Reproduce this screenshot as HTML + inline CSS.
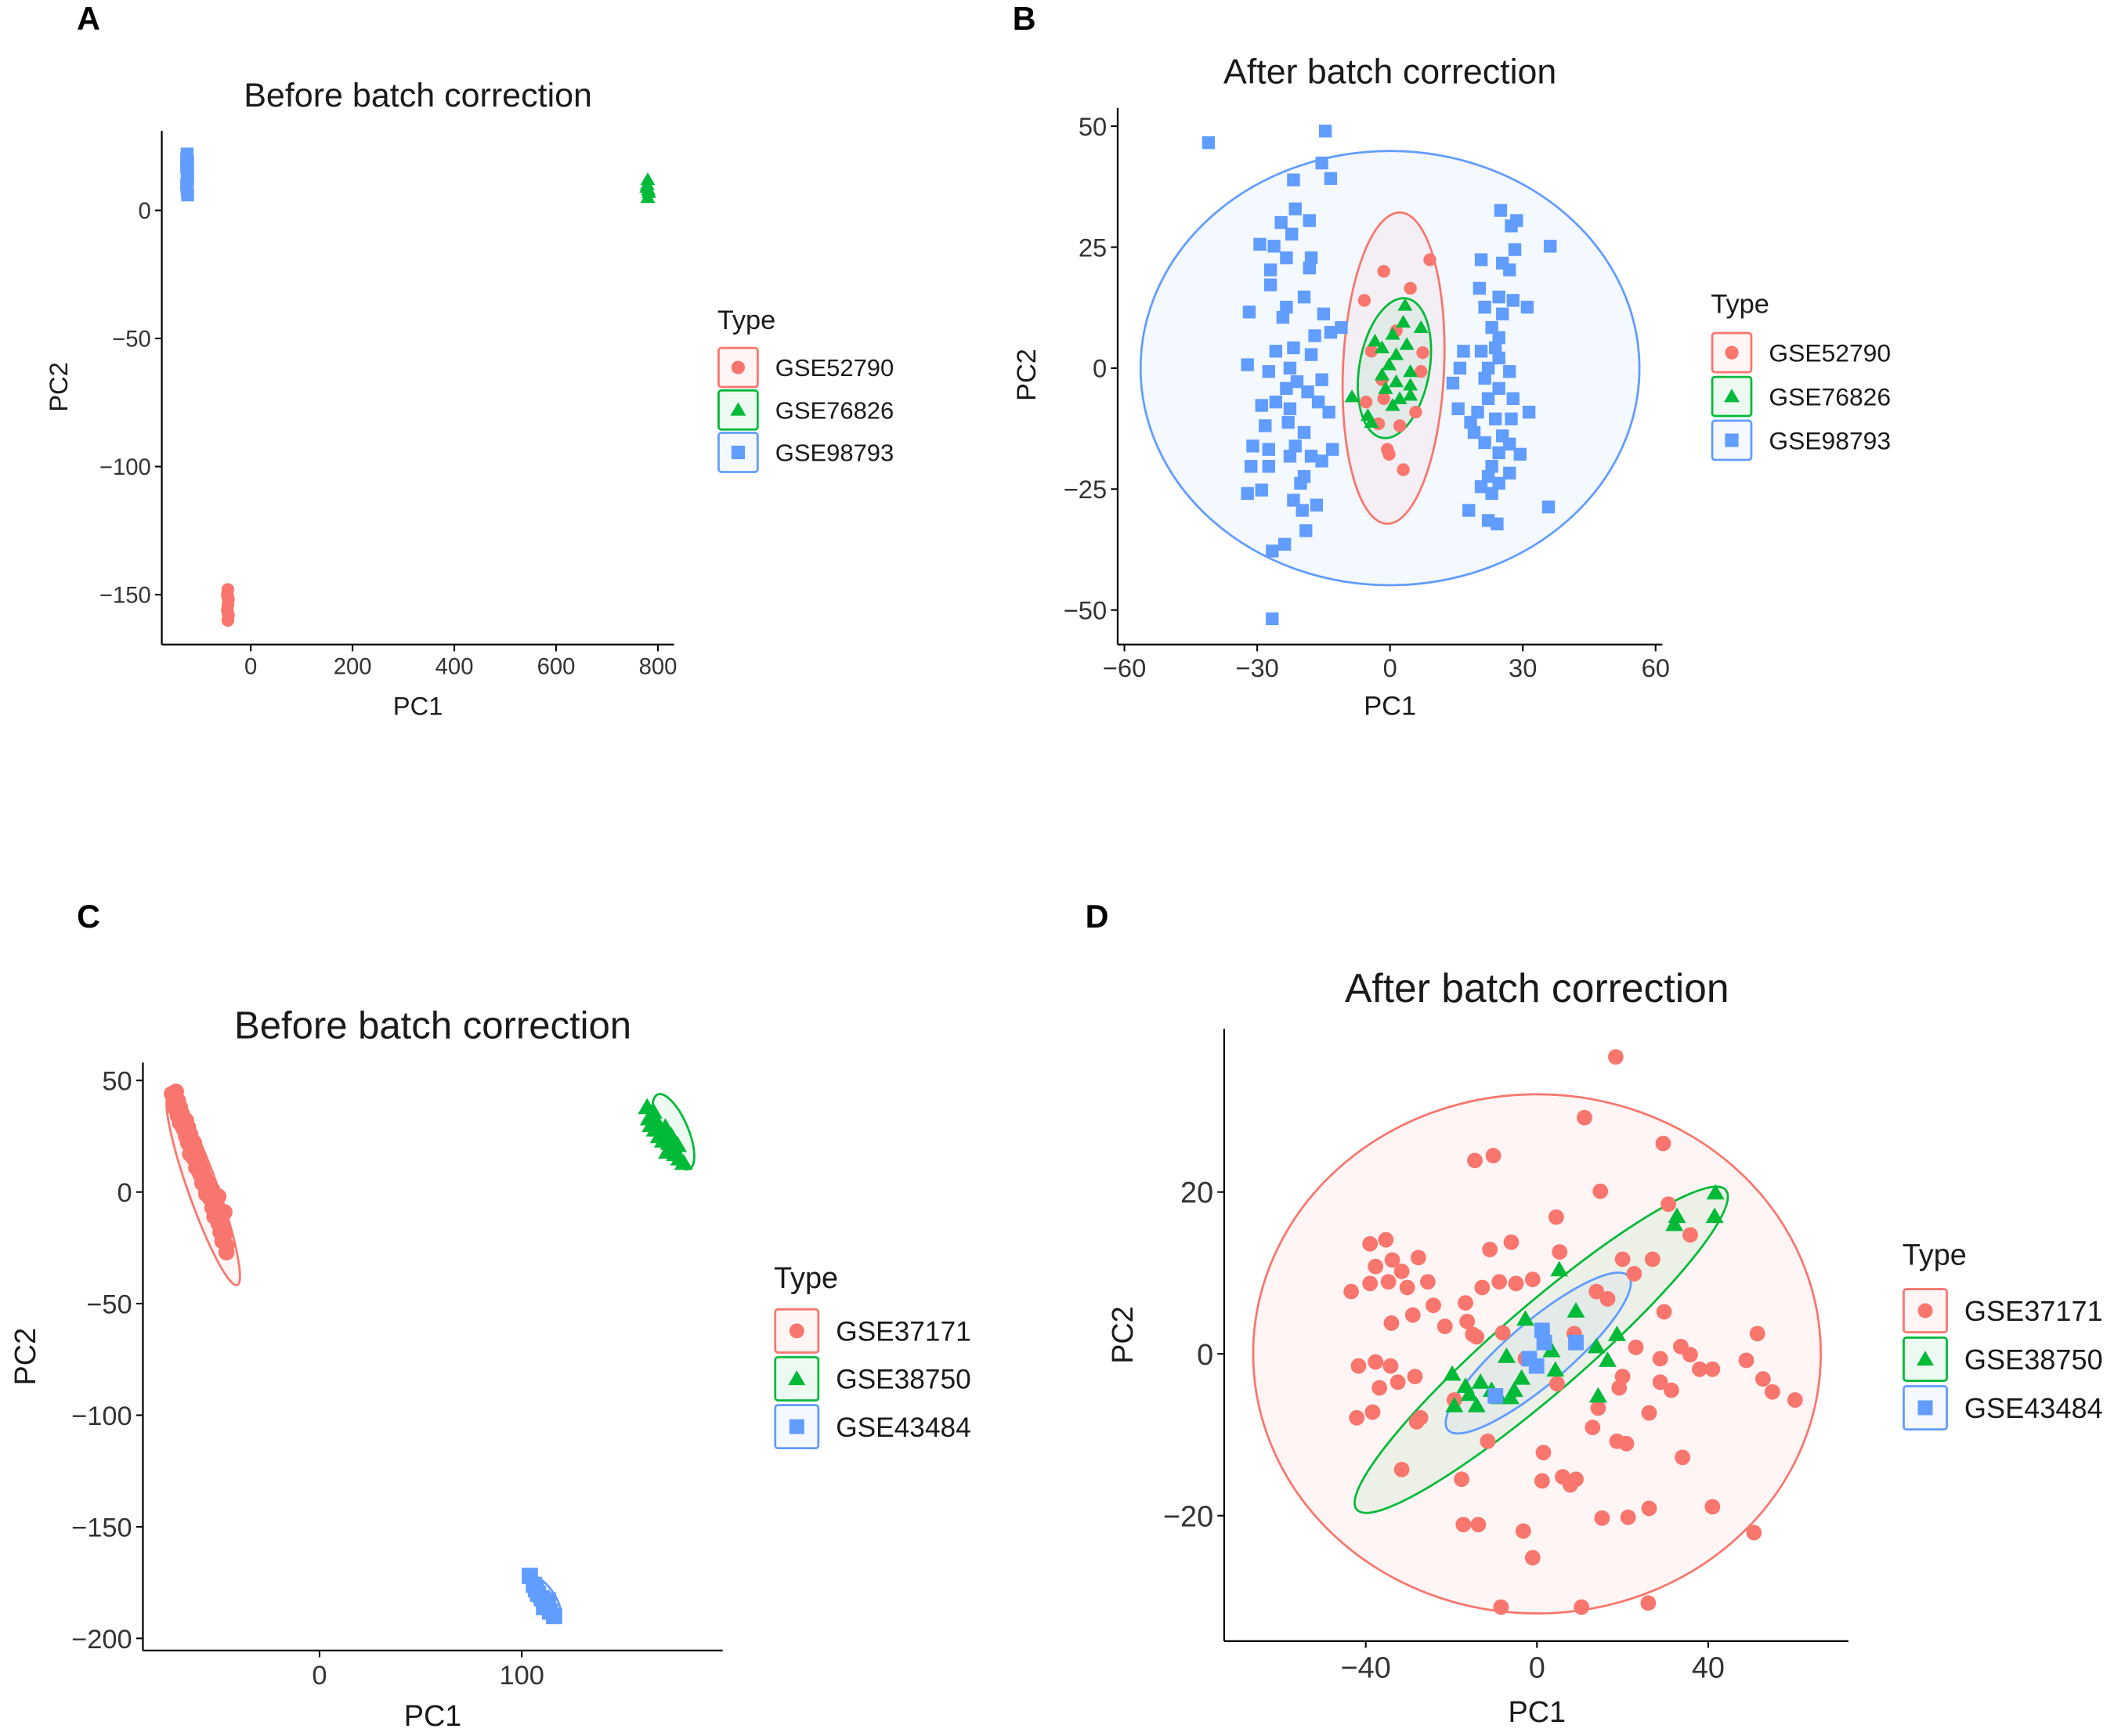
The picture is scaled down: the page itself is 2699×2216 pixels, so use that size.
<!DOCTYPE html>
<html><head><meta charset="utf-8"><style>
html,body{margin:0;padding:0;background:#fff;}
svg{display:block;font-family:"Liberation Sans",Arial,sans-serif;}
</style></head><body>
<svg id="fig" width="2699" height="2216" viewBox="0 0 1568 1287.4" preserveAspectRatio="none" xmlns="http://www.w3.org/2000/svg"></svg>
<script>
// ---------- DATA ----------
const aTypes = ["GSE52790","GSE76826","GSE98793"];
const aRedX = [-45,-46,-44,-45,-46,-44,-45,-45];
const aRedY = [-148,-150,-152,-154,-156,-158,-160,-151];
const aGreenX = [780,778,782,780,779,781];
const aGreenY = [12,9,7,5,10,8];
const aBlueX = [-125,-124,-126,-125,-124,-126,-125,-124,-126,-124];
const aBlueY = [22,19,17,15,12,10,8,6,20,14];
const aXTicks = [0,200,400,600,800];
const aYTicks = [0,-50,-100,-150];

const bTypes = ["GSE52790","GSE76826","GSE98793"];
const bBlueX = [-41,-14.6,-15.4,-21.8,-13.4,-21.4,-24.6,-18.2,-22.2,-29.4,-26.2,-23.4,-17.8,-27,-18.2,-27,-31.8,-23.4,-19.4,-15,-24.2,-11,-17,-13.4,-25.8,-21.8,-17.8,-32.2,-27.4,-22.6,-21,-15.4,-23.4,-18.6,-29,-25.8,-22.6,-16.2,-13.8,-28.2,-23,-19.4,-31,-27.4,-21.4,-17.8,-13,-31.4,-27.4,-22.6,-15.4,-19.4,-32.2,-29,-21.8,-20.2,-16.6,-19.8,-19,-26.6,-23.8,-26.6,
 25,28.6,27.4,36.2,28.2,20.6,25.4,27,20.2,24.6,27.8,31,21.4,25.4,23,24.6,23.8,16.6,20.6,24.6,15.8,22.2,27,21.4,14.2,24.6,22.2,27.8,15.4,19.8,31.4,18.2,23.8,27.4,19,25.4,21.4,27,24.6,29.4,23,27,22.2,24.6,20.6,23,35.8,17.8,22.2,24.2];
const bBlueY = [46.6,49,42.4,38.9,39.2,32.9,30.1,30.5,27.7,25.6,25.2,22.8,22.8,20.3,20.7,17.2,11.6,12.6,14.7,11.2,10.5,8.4,6.7,7.4,3.5,4.2,2.8,0.7,-0.7,0,-2.8,-2.4,-4.2,-4.9,-7.7,-7,-8.4,-7,-9.1,-11.9,-11.2,-13.3,-16.1,-16.8,-16.1,-18.2,-16.8,-20.3,-20.3,-18.2,-19.2,-22.4,-25.9,-25.2,-27.3,-23.8,-28.3,-29.4,-33.6,-37.8,-36.4,-51.8,
 32.6,30.5,29.4,25.2,24.5,22.4,21.7,20.3,16.5,14.7,14,12.6,12.6,11.2,8.4,6.3,4.2,3.5,3.5,2.1,0,0,-0.7,-2.1,-3.1,-4.2,-6.3,-6.3,-8.4,-9.1,-9.1,-11.2,-10.5,-10.5,-13.3,-14,-15.4,-15.7,-17.5,-17.8,-20.3,-21.7,-22.4,-23.8,-24.5,-25.9,-28.7,-29.4,-31.5,-32.2];
const bRedX = [9,-1.4,4.6,-5.8,7.4,-4.2,7,-1.8,-5.4,-1.4,5.8,-2.6,2.2,-0.6,-0.2,3,1.4];
const bRedY = [22.4,20,16.5,14,3.2,3.5,-0.7,-2.4,-7,-6.3,-9.1,-11.5,-11.9,-16.8,-17.8,-21,7.7];
const bGreenX = [3.4,3,7,0.6,-3.4,-1.8,3.8,1.4,-0.2,4.6,-1.8,1.4,4.6,-1,2.2,-8.6,4.6,-4.2,-5,0.6];
const bGreenY = [13,9.5,8.4,7,5.6,4.2,4.9,2.8,0.7,-0.7,-1.4,-2.8,-3.5,-4.2,-6.3,-5.9,-5.6,-11.2,-9.8,-7.7];
const bXTicks = [-60,-30,0,30,60];
const bYTicks = [50,25,0,-25,-50];

const cTypes = ["GSE37171","GSE38750","GSE43484"];
const cRedX = [-73,-71,-72,-70,-71,-69,-70,-68,-69,-66,-67,-65,-66,-64,-65,-62,-63,-61,-62,-60,-61,-58,-59,-57,-58,-55,-56,-53,-54,-52,-53,-51,-52,-49,-50,-48,-49,-47,-48,-46,-46,-56,-50,-60,-67,-47,-64,-72,-70,-68,-66,-64,-62,-60,-58,-56,-54,-52,-50,-48,-63,-59,-55,-51];
const cRedY = [44,45,40,41,37,38,34,35,31,32,28,29,25,26,22,22,19,18,15,14,11,11,8,7,4,3,0,1,-3,-4,-7,-8,-11,-11,-14,-15,-18,-19,-22,-24,-27,-1,-2,10,33,-9,17,42,38,33,28,24,19,15,10,5,0,-5,-10,-16,23,12,2,-6];
const cGreenX = [162,165,163,167,166,169,171,170,173,175,176,178,172,168,174,177,180,164];
const cGreenY = [38,36,33,31,28,26,29,23,22,20,17,15,18,25,25,21,13,30];
const cBlueX = [104,106,108,110,112,114,116,107,111,113];
const cBlueY = [-172,-176,-180,-182,-185,-188,-190,-178,-186,-183];
const cXTicks = [0,100];
const cYTicks = [50,0,-50,-100,-150,-200];

const dTypes = ["GSE37171","GSE38750","GSE43484"];
const dRedX = [18.4,11.1,29.5,-14.5,-10.2,14.8,4.5,30.7,35.8,-39,-35.3,-11,-6,5.3,-27.7,-33.8,-37.7,-31.6,-30.3,-43.4,-39,-34.7,-25.5,-12.8,-8.8,-4.9,-1,20,27,22.7,13.9,16.5,-24.2,-16.7,-29,-34,-21.5,-16.3,29.7,51.5,-14.1,-8,8.7,-41.7,-37.7,-34.2,-28.5,-32.5,-36.8,23.1,28.8,33.6,35.8,38,41,48.9,52.8,55,60.3,-42.1,-38.4,-28.1,20,19.2,28.8,31.4,26.2,14.3,13,18.7,20.9,-11.5,1.5,34,-31.6,-17.6,1.2,6,7.8,9.1,41,15.2,21.3,26.2,-17.2,-13.7,-3.2,50.7,-1,-8.4,10.4,26,-2.7,4.7,-15,-19.3,-27.2];
const dRedY = [36.7,29.2,26,23.9,24.5,20.1,16.9,18.5,14.7,13.6,14.1,12.9,13.8,12.6,11.9,11.6,10.8,10.2,8.2,7.7,8.7,8.9,8.9,8.2,8.9,8.7,9.2,11.7,11.7,9.9,7.7,6.8,6,6.3,4.8,3.8,3.4,4,5.2,2.5,2.1,2.6,2.5,-1.5,-1,-1.5,-2.8,-3.5,-4.2,0.8,-0.6,0.9,-0.1,-1.9,-1.9,-0.8,-3.1,-4.7,-5.7,-7.9,-7.2,-8.4,-2.8,-4.2,-3.5,-4.5,-7.3,-6.7,-9.1,-10.8,-11.1,-10.8,-12.2,-12.8,-14.3,-15.5,-15.7,-15.2,-16.2,-15.5,-18.9,-20.3,-20.2,-19.1,-21.1,-21.1,-21.9,-22.1,-25.2,-31.3,-31.3,-30.8,-0.6,-3.7,2.4,-5.7,-7.9];
const dGreenX = [41.7,32.7,32.1,41.5,5.2,9.1,-2.7,18.7,13.9,16.5,-7.1,3.4,-19.8,-16.7,-13.2,-10.6,-3.6,-5.3,4.3,-19.3,-14.1,-8.8,-6.2,14.3,-15.8];
const dGreenY = [19.9,17,16,17,10.4,5.3,4.3,2.4,0.9,-0.8,-0.3,0.4,-2.5,-4,-3.5,-4.5,-3,-4.5,-2,-6.4,-6.4,-5.4,-5.4,-5.2,-5];
const dBlueX = [1.2,1.7,-0.1,9.1,-9.7,-1.8];
const dBlueY = [2.9,1.4,-1.5,1.4,-5.2,-0.6];
const dXTicks = [-40,0,40];
const dYTicks = [20,0,-20];

// ---------- DRAWING ----------
const NS = "http://www.w3.org/2000/svg";
const svg = document.getElementById("fig");
const RED="#F8766D", GREEN="#00BA38", BLUE="#619CFF";
function mk(tag, attrs, parent){
  const e=document.createElementNS(NS,tag);
  for(const k in attrs) e.setAttribute(k,attrs[k]);
  (parent||svg).appendChild(e); return e;
}
function lin(d0,p0,d1,p1){ return v=>p0+(v-d0)*(p1-p0)/(d1-d0); }

function marker(g, shape, px, py, s, color){
  let e;
  if(shape==="circle"){ e=mk("circle",{cx:px,cy:py,r:s/2,fill:color},g); }
  else if(shape==="square"){ e=mk("rect",{x:px-s/2,y:py-s/2,width:s,height:s,fill:color},g); }
  else { const h=s*0.95; e=mk("polygon",{points:`${px},${py-h*0.6} ${px-s*0.58},${py+h*0.45} ${px+s*0.58},${py+h*0.45}`,fill:color},g); }
  return e;
}

function panel(cfg){
  const g=mk("g",{});
  
  
  const X=cfg.X, Y=cfg.Y;
  const L=mk("text",{x:cfg.letter[1],y:cfg.letter[2],"font-size":24,"font-weight":"bold",fill:"#000"},g);
  L.textContent=cfg.letter[0];
  
  
  const T=mk("text",{x:cfg.title[1],y:cfg.title[2],"font-size":cfg.title[3],"text-anchor":"middle",fill:"#1a1a1a"},g);
  T.textContent=cfg.title[0];
  
  
  (cfg.ellipses||[]).forEach(el=>{
    const e=mk("ellipse",{cx:0,cy:0,rx:el.rx,ry:el.ry,fill:el.c,"fill-opacity":0.07,stroke:el.c,"stroke-width":1.6,
      transform:`translate(${X(el.x)},${Y(el.y)}) rotate(${el.a})`},g);
    
    
  });
  cfg.series.forEach(s=>{
    const sg=mk("g",{},g);
    
    
    for(let i=0;i<s.xs.length;i++){
      const m=marker(sg,s.shape,X(s.xs[i]),Y(s.ys[i]),cfg.ms,s.c);
      
      
    }
  });
  const ax=cfg.axis;
  const ya=mk("line",{x1:ax.x0,y1:ax.yTop,x2:ax.x0,y2:ax.y0,stroke:"#000","stroke-width":1.3},g);
  
  
  const xa=mk("line",{x1:ax.x0,y1:ax.y0,x2:ax.xRight,y2:ax.y0,stroke:"#000","stroke-width":1.3},g);
  
  
  cfg.xt.forEach(v=>{
    const px=X(v);
    mk("line",{x1:px,y1:ax.y0,x2:px,y2:ax.y0+5,stroke:"#000","stroke-width":1.2},g);
    const t=mk("text",{x:px,y:ax.y0+5+cfg.tf,"font-size":cfg.tf,"text-anchor":"middle",fill:"#333"},g);
    t.textContent=String(v).replace("-","\u2212");
    
    
  });
  cfg.yt.forEach(v=>{
    const py=Y(v);
    mk("line",{x1:ax.x0-5,y1:py,x2:ax.x0,y2:py,stroke:"#000","stroke-width":1.2},g);
    const t=mk("text",{x:ax.x0-8,y:py+cfg.tf*0.36,"font-size":cfg.tf,"text-anchor":"end",fill:"#333"},g);
    t.textContent=String(v).replace("-","\u2212");
    
    
  });
  const xl=mk("text",{x:cfg.xl[0],y:cfg.xl[1],"font-size":cfg.lf,"text-anchor":"middle",fill:"#1a1a1a"},g);
  xl.textContent="PC1";
  
  
  const yl=mk("text",{x:0,y:0,"font-size":cfg.lf,"text-anchor":"middle",fill:"#1a1a1a",transform:`translate(${cfg.yl[0]},${cfg.yl[1]}) rotate(-90)`},g);
  yl.textContent="PC2";
  
  
  const lg=mk("g",{},g);
  
  
  const lc=cfg.legend;
  const lt=mk("text",{x:lc.x,y:lc.ty,"font-size":lc.tf,fill:"#1a1a1a"},lg);
  lt.textContent="Type";
  
  
  cfg.series.forEach((s,i)=>{
    const eg=mk("g",{},lg);
    
    
    const by=lc.y0+i*lc.step;
    mk("rect",{x:lc.x+1,y:by+1,width:lc.box-2,height:lc.box-2,fill:s.c,"fill-opacity":0.07,stroke:s.c,"stroke-width":1.6,rx:2},eg);
    marker(eg,s.shape,lc.x+lc.box/2,by+lc.box/2,lc.ms,s.c);
    const tx=mk("text",{x:lc.x+lc.box+12,y:by+lc.box/2+lc.lf*0.36,"font-size":lc.lf,fill:"#1a1a1a"},eg);
    tx.textContent=s.label;
  });
}

panel({name:"panel-a-before-correction",
  X:lin(0,186,800,488), Y:lin(0,156,-150,441),
  letter:["A",57,22], title:["Before batch correction",310,79,25],
  axis:{x0:120,y0:478,yTop:97,xRight:500}, xt:aXTicks, yt:aYTicks, tf:17, lf:19,
  xl:[310,530], yl:[50,287], ms:9.5,
  series:[{label:aTypes[0],shape:"circle",c:RED,xs:aRedX,ys:aRedY},
          {label:aTypes[1],shape:"triangle",c:GREEN,xs:aGreenX,ys:aGreenY},
          {label:aTypes[2],shape:"square",c:BLUE,xs:aBlueX,ys:aBlueY}],
  legend:{x:532,ty:244,tf:20,y0:257,step:31.5,box:31,lf:18,ms:10}
});
panel({name:"panel-b-after-correction",
  X:lin(0,1031,30,1129.5), Y:lin(0,273,25,183.3),
  letter:["B",751,22], title:["After batch correction",1031,62,26],
  axis:{x0:829,y0:478,yTop:80,xRight:1233}, xt:bXTicks, yt:bYTicks, tf:19, lf:20,
  xl:[1031,530], yl:[768,278], ms:9.5,
  ellipses:[{x:0,y:0,rx:185,ry:161,a:0,c:BLUE},{x:0.8,y:0,rx:37.5,ry:115.5,a:2.5,c:RED},{x:1,y:0,rx:26,ry:52.5,a:10,c:GREEN}],
  series:[{label:bTypes[0],shape:"circle",c:RED,xs:bRedX,ys:bRedY},
          {label:bTypes[1],shape:"triangle",c:GREEN,xs:bGreenX,ys:bGreenY},
          {label:bTypes[2],shape:"square",c:BLUE,xs:bBlueX,ys:bBlueY}],
  legend:{x:1269,ty:232,tf:20,y0:246,step:32.5,box:31,lf:18.5,ms:10}
});
panel({name:"panel-c-before-correction",
  X:lin(0,237,100,387), Y:lin(0,884,-200,1215),
  letter:["C",57,688], title:["Before batch correction",321,770,28.5],
  axis:{x0:106,y0:1224,yTop:788,xRight:536}, xt:cXTicks, yt:cYTicks, tf:20, lf:22,
  xl:[321,1280], yl:[26,1006], ms:12,
  ellipses:[{x:-57.5,y:1,rx:75,ry:11,a:70.4,c:RED},{x:175,y:27,rx:30,ry:11,a:67,c:GREEN},{x:111,y:-182,rx:19,ry:8,a:56,c:BLUE}],
  series:[{label:cTypes[0],shape:"circle",c:RED,xs:cRedX,ys:cRedY},
          {label:cTypes[1],shape:"triangle",c:GREEN,xs:cGreenX,ys:cGreenY},
          {label:cTypes[2],shape:"square",c:BLUE,xs:cBlueX,ys:cBlueY}],
  legend:{x:574,ty:955,tf:22,y0:970,step:35.5,box:34,lf:20.5,ms:11}
});
panel({name:"panel-d-after-correction",
  X:lin(0,1140,40,1267), Y:lin(0,1004,20,884),
  letter:["D",805,688], title:["After batch correction",1140,743,30],
  axis:{x0:908,y0:1217,yTop:763,xRight:1371}, xt:dXTicks, yt:dYTicks, tf:22, lf:22,
  xl:[1140,1277], yl:[840,990], ms:11.5,
  ellipses:[{x:0,y:0,rx:210.5,ry:192.5,a:0,c:RED},{x:1,y:0.5,rx:181,ry:32,a:-40.9,c:GREEN},{x:0.3,y:0.1,rx:88,ry:23,a:-40.4,c:BLUE}],
  series:[{label:dTypes[0],shape:"circle",c:RED,xs:dRedX,ys:dRedY},
          {label:dTypes[1],shape:"triangle",c:GREEN,xs:dGreenX,ys:dGreenY},
          {label:dTypes[2],shape:"square",c:BLUE,xs:dBlueX,ys:dBlueY}],
  legend:{x:1411,ty:938,tf:22,y0:955,step:36,box:34,lf:21,ms:11}
});
</script>
</body></html>
